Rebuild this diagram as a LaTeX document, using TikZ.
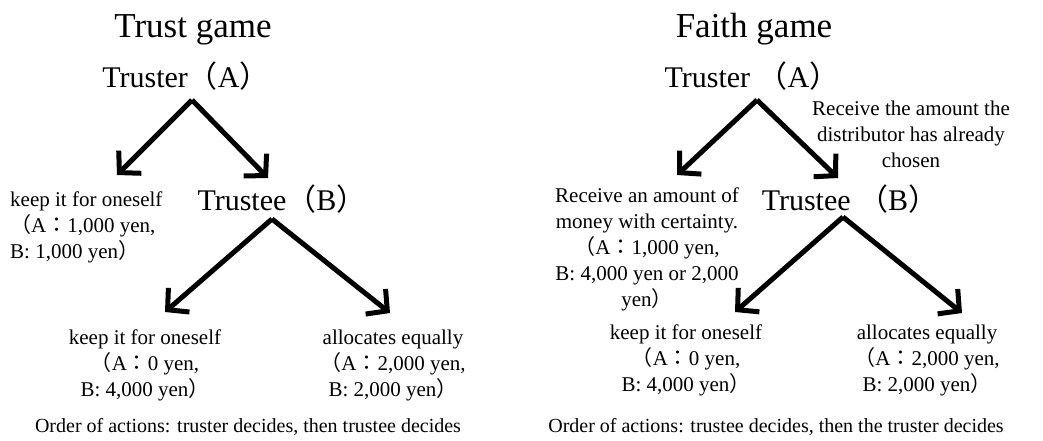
\documentclass[tikz,border=0pt]{standalone}
\usepackage{fontspec}
\setmainfont{Liberation Serif}
\newfontfamily\cjk{Noto Sans CJK JP}
\usetikzlibrary{arrows.meta}
\newcommand{\fwopen}{{\cjk （}}
\newcommand{\fwclose}{{\cjk ）}}
\newcommand{\fwcolon}{{\cjk ：}}

\begin{document}
\begin{tikzpicture}[x=1pt,y=-1pt,
	title/.style={anchor=base,font=\fontsize{35}{40}\selectfont},
	player/.style={anchor=base,font=\fontsize{30}{36}\selectfont},
	payoff/.style={anchor=base,align=center,inner sep=0pt,font=\fontsize{21}{26}\selectfont},
	order/.style={anchor=base,font=\fontsize{20}{24}\selectfont},
	move/.style={line width=5pt,-{Straight Barb[length=15pt,width=32pt]}}]
		\useasboundingbox (0,0) rectangle (1043,440);
		
		% trust game
		\node[title] (ttitle) at (193,37) {Trust game};
		\node[player] (trA) at (186,87) {Truster\fwopen A\fwclose};
		\coordinate (trAtop) at (192,100);
		\coordinate (trAl) at (117,175);
		\coordinate (trAr) at (268,178);
		\draw[move] (trAtop) -- (trAl);
		\draw[move] (trAtop) -- (trAr);
		% base = last line
		\node[payoff,align=left,anchor=base west] (trkeepA) at (10,258) {keep it for oneself\\\fwopen A\fwcolon 1,000 yen,\\B: 1,000 yen\fwclose};
		\node[player] (trB) at (282,210) {Trustee\fwopen B\fwclose};
		\coordinate (trBtop) at (272,219);
		\coordinate (trBl) at (165,312);
		\coordinate (trBr) at (390,313);
		\draw[move] (trBtop) -- (trBl);
		\draw[move] (trBtop) -- (trBr);
		\node[payoff] (trkeepB) at (145,396) {keep it for oneself\\ \fwopen A\fwcolon 0 yen,\\B: 4,000 yen\fwclose};
		\node[payoff] (trequal) at (393,396) {allocates equally\\ \fwopen A\fwcolon 2,000 yen,\\B: 2,000 yen\fwclose};
		\node[order] (trorder) at (248,432) {Order of actions: truster decides, then trustee decides};
		
		% faith game
		\node[title] (ftitle) at (754,37) {Faith game};
		\node[player] (fA) at (752,87) {Truster \fwopen A\fwclose};
		\coordinate (fAtop) at (757,100);
		\coordinate (fAl) at (677,175);
		\coordinate (fAr) at (838,178);
		\draw[move] (fAtop) -- (fAl);
		\draw[move] (fAtop) -- (fAr);
		\node[payoff] (fsure) at (647,306) {Receive an amount of\\money with certainty.\\ \fwopen A\fwcolon 1,000 yen,\\B: 4,000 yen or 2,000\\yen\fwclose};
		\node[payoff] (fchosen) at (911,167) {Receive the amount the\\distributor has already\\chosen};
		\node[player] (fB) at (850,210) {Trustee \fwopen B\fwclose};
		\coordinate (fBtop) at (843,217);
		\coordinate (fBl) at (735,312);
		\coordinate (fBr) at (962,313);
		\draw[move] (fBtop) -- (fBl);
		\draw[move] (fBtop) -- (fBr);
		\node[payoff] (fkeep) at (686,391) {keep it for oneself\\ \fwopen A\fwcolon 0 yen,\\B: 4,000 yen\fwclose};
		\node[payoff] (fequal) at (927,391) {allocates equally\\ \fwopen A\fwcolon 2,000 yen,\\B: 2,000 yen\fwclose};
		\node[order] (forder) at (776,432) {Order of actions: trustee decides, then the truster decides};
\end{tikzpicture}
\end{document}
